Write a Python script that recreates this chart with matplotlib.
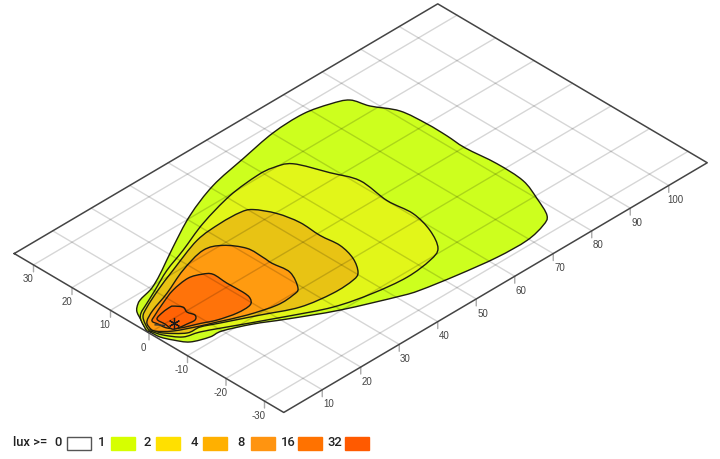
import matplotlib
matplotlib.use("Agg")
import matplotlib.pyplot as plt
from matplotlib.path import Path
from matplotlib.patches import PathPatch, Rectangle
from matplotlib.transforms import Affine2D

# distance ahead of the lamp (m), lateral offset (m) for each isolux line
lux1_x = [0.18, 2.12, 3.05, 4.14, 6.07, 9.56, 11.75, 15.5, 21.97, 31.2, 40.76, 50.58, 60.18, 68.25, 73.95, 77.42, 78.7, 81.5, 82.16, 82.12, 81.83, 82.48, 82.13, 80.0, 77.57, 74.86, 69.49, 61.86, 52.72, 44.63, 40.71, 29.85, 20.99, 15.48, 9.92, 7.05, 3.35, 1.58, 0.55, 0.35]
lux1_y = [0.7, 4.46, 6.17, 7.26, 8.41, 9.3, 10.19, 12.13, 15.76, 20.55, 24.14, 26.17, 27.97, 28.25, 26.93, 25.21, 21.3, 16.31, 9.95, 4.72, -0.25, -7.91, -15.02, -20.79, -25.81, -27.49, -28.7, -28.53, -27.28, -25.77, -24.48, -19.76, -14.85, -11.53, -9.04, -8.8, -7.3, -4.65, -2.3, 0.09]
lux2_x = [0.18, 1.81, 3.35, 6.32, 10.21, 16.15, 22.62, 31.14, 40.78, 48.68, 52.51, 55.98, 58.81, 60.96, 60.08, 60.6, 59.08, 56.17, 52.5, 45.79, 37.86, 29.6, 20.91, 11.44, 6.84, 3.54, 1.38, 0.57]
lux2_y = [0.7, 3.89, 5.43, 6.84, 8.65, 11.48, 13.79, 17.11, 19.74, 20.63, 20.3, 18.58, 11.8, 6.15, -1.75, -7.97, -13.9, -18.89, -20.49, -21.23, -20.32, -18.2, -13.9, -8.81, -6.4, -5.29, -2.26, 0.31]
lux4_x = [0.75, 2.73, 5.44, 10.6, 16.93, 26.63, 33.35, 38.36, 40.7, 42.94, 43.95, 43.7, 44.1, 42.94, 40.52, 38.12, 32.67, 25.31, 18.36, 11.42, 7.94, 4.94, 1.82, 1.05]
lux4_y = [1.0, 4.29, 5.96, 8.26, 10.7, 14.16, 14.9, 14.72, 13.69, 9.69, 4.73, -0.72, -5.5, -10.05, -13.77, -14.87, -15.13, -13.91, -10.47, -7.03, -5.31, -4.94, -1.82, 0.27]
lux8_x = [1.32, 2.37, 5.56, 11.11, 18.23, 25.21, 28.91, 31.37, 31.47, 31.33, 31.69, 29.22, 27.03, 22.77, 16.67, 11.24, 8.16, 3.55, 1.22]
lux8_y = [1.32, 2.89, 4.52, 6.43, 9.4, 11.19, 9.69, 5.92, 1.86, -0.62, -4.94, -9.48, -10.37, -10.49, -8.78, -6.42, -5.09, -2.68, -0.34]
lux16_x = [3.02, 4.73, 8.4, 12.55, 17.13, 19.83, 21.25, 21.1, 21.2, 20.79, 19.26, 15.82, 11.68, 8.71, 5.12, 3.44, 3.15]
lux16_y = [2.24, 3.17, 4.76, 6.32, 7.0, 6.06, 4.63, 0.84, -3.22, -5.44, -6.98, -7.05, -5.98, -4.54, -2.93, -1.24, 0.8]
lux32_x = [8.43, 9.04, 10.12, 9.54, 9.92, 8.83, 6.91, 4.86, 3.86, 4.05, 4.11, 6.43]
lux32_y = [2.97, 2.8, 1.28, -0.33, -2.03, -3.12, -2.96, -2.67, -2.11, -0.11, 2.03, 2.79]

lamp_x = [5.4]
lamp_y = [-1.0]
spot_x = [2.6, 3.2, 3.6]
spot_y = [1.0, 0.3, -0.4]

levels = [0, 1, 2, 4, 8, 16, 32]
legend_colors = ["white", "#d6ff00", "#ffe000", "#ffb000", "#ff9410", "#ff7200", "#ff5a00"]
area_colors = ["#cdff1e", "#e2f619", "#e8c314", "#ff9b10", "#ff730a", "#ff6205"]

x_ticks = [10, 20, 30, 40, 50, 60, 70, 80, 90, 100]
y_ticks = [-30, -20, -10, 0, 10, 20, 30]
x_max = 110
y_max = 35

plt.rcParams["font.family"] = ["Liberation Sans", "DejaVu Sans"]

fig = plt.figure(figsize=(7.2, 4.59), dpi=100)
ax = fig.add_axes([0, 0, 1, 1])
ax.set_xlim(0, 720)
ax.set_ylim(459, 0)
ax.axis("off")

# road plane seen at an angle
road = Affine2D.from_values(3.85, -2.27, -3.85, -2.27, 149, 333) + ax.transData


def smooth_path(xs, ys):
    # closed outline through every point, bezier handles from the neighbours
    n = len(xs)
    verts = [(xs[0], ys[0])]
    codes = [Path.MOVETO]
    for i in range(n):
        x0, y0 = xs[i - 1], ys[i - 1]
        x1, y1 = xs[i], ys[i]
        x2, y2 = xs[(i + 1) % n], ys[(i + 1) % n]
        x3, y3 = xs[(i + 2) % n], ys[(i + 2) % n]
        verts.append((x1 + (x2 - x0) / 6, y1 + (y2 - y0) / 6))
        verts.append((x2 - (x3 - x1) / 6, y2 - (y3 - y1) / 6))
        verts.append((x2, y2))
        codes += [Path.CURVE4, Path.CURVE4, Path.CURVE4]
    return Path(verts, codes)


outlines = [(lux1_x, lux1_y), (lux2_x, lux2_y), (lux4_x, lux4_y),
            (lux8_x, lux8_y), (lux16_x, lux16_y), (lux32_x, lux32_y)]
for (xs, ys), col in zip(outlines, area_colors):
    ax.add_patch(PathPatch(smooth_path(xs, ys), facecolor=col, edgecolor="#1e1e10",
                           lw=1.0, transform=road, zorder=2))

# grid lies over the fills
for v in x_ticks:
    ax.plot([v, v], [-y_max, y_max], color="black", alpha=0.16, lw=1.0, transform=road, zorder=3)
for v in y_ticks:
    ax.plot([0, x_max], [v, v], color="black", alpha=0.16, lw=1.0, transform=road, zorder=3)

ax.plot([0, x_max, x_max, 0, 0], [y_max, y_max, -y_max, -y_max, y_max],
        color="#444444", lw=1.1, transform=road, zorder=4)

for v in x_ticks:
    ax.annotate("", xy=(v, -y_max), xycoords=road, xytext=(0, -5), textcoords="offset points",
                arrowprops=dict(arrowstyle="-", color="#aaaaaa", lw=1, shrinkA=0, shrinkB=0))
    ax.annotate(str(v), xy=(v, -y_max), xycoords=road, xytext=(4.5, -10.5), textcoords="offset points",
                ha="center", va="center", fontsize=7, color="#444444")
for v in y_ticks:
    ax.annotate("", xy=(0, v), xycoords=road, xytext=(0, -5), textcoords="offset points",
                arrowprops=dict(arrowstyle="-", color="#aaaaaa", lw=1, shrinkA=0, shrinkB=0))
    ax.annotate(str(v), xy=(0, v), xycoords=road, xytext=(-4, -10.5), textcoords="offset points",
                ha="center", va="center", fontsize=7, color="#444444")

ax.plot(lamp_x, lamp_y, marker=(6, 2, 0), ms=8, color="#1a1a1a", mew=0.9, transform=road, zorder=5)
ax.plot(spot_x, spot_y, color="#333333", lw=1.0, transform=road, zorder=5)

# legend
label_pos = [58, 101.5, 147, 194, 241.5, 288.5, 334.5]
box_left = [67, 111, 156, 203, 251, 298, 345]
ax.text(13, 442.5, "lux >=", fontsize=9.4, color="#222222", ha="left", va="center", family="Roboto", weight="medium")
for lev, lx, bx, col in zip(levels, label_pos, box_left, legend_colors):
    ax.text(lx, 442.5, str(lev), fontsize=9.4, color="#222222", ha="center", va="center", family="Roboto", weight="medium")
    edge = "#555555" if lev == 0 else col
    ax.add_patch(Rectangle((bx, 437), 23.5, 13, facecolor=col, edgecolor=edge, lw=1.0))

fig.savefig("out.png", dpi=100)
